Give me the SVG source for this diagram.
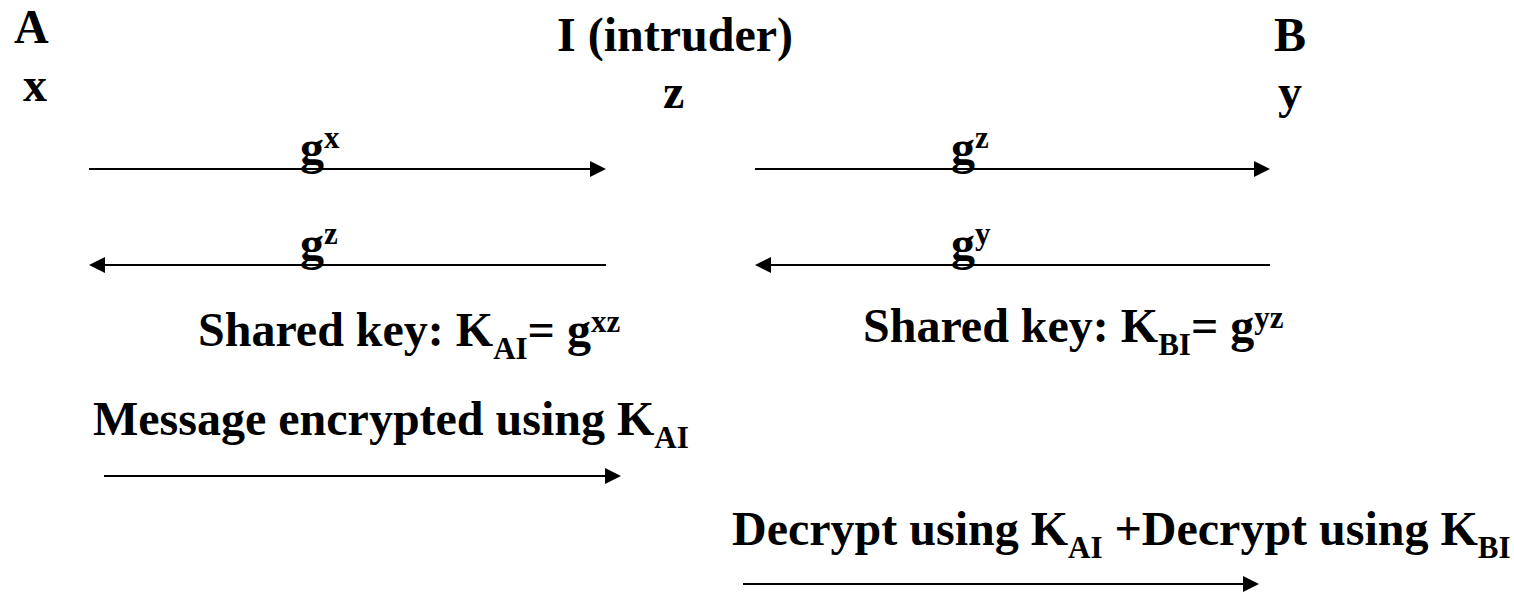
<svg xmlns="http://www.w3.org/2000/svg" width="1514" height="592" viewBox="0 0 1514 592">
  <style>
    text { font-family: "Liberation Serif", "Times New Roman", serif; font-weight: bold; font-size: 48px; fill: #000; }
    .sub { font-size: 31px; }
    .msg { stroke: #000; stroke-width: 2; fill: none; marker-end: url(#head); }
  </style>
  <defs>
    <marker id="head" markerUnits="userSpaceOnUse" markerWidth="16" markerHeight="16" refX="2" refY="8" orient="auto">
      <path d="M0,0 L16,8 L0,16 z" fill="#000"/>
    </marker>
  </defs>

  <!-- parties and their secret exponents -->
  <g id="party-a">
    <text x="14" y="43">A</text>
    <text x="23" y="101">x</text>
  </g>
  <g id="party-i">
    <text x="557" y="51">I (intruder)</text>
    <text x="663" y="108">z</text>
  </g>
  <g id="party-b">
    <text x="1274" y="51">B</text>
    <text x="1278" y="108">y</text>
  </g>

  <!-- message exchanges -->
  <g id="connectors">
    <line class="msg" x1="89" y1="169" x2="592" y2="169"/>
    <line class="msg" x1="606" y1="265" x2="103" y2="265"/>
    <line class="msg" x1="755" y1="169" x2="1256" y2="169"/>
    <line class="msg" x1="1270" y1="265" x2="769" y2="265"/>
    <line class="msg" x1="104" y1="476" x2="607" y2="476"/>
    <line class="msg" x1="743" y1="584" x2="1245" y2="584"/>
  </g>

  <!-- exchanged public values -->
  <g id="labels">
    <text x="300" y="164">g<tspan class="sub" dy="-16">x</tspan></text>
    <text x="300" y="260">g<tspan class="sub" dy="-16">z</tspan></text>
    <text x="951" y="164">g<tspan class="sub" dy="-16">z</tspan></text>
    <text x="951" y="260">g<tspan class="sub" dy="-16">y</tspan></text>
  </g>

  <!-- derived keys and traffic -->
  <g id="key-ai">
    <text x="198" y="346">Shared key: K<tspan class="sub" dy="13">AI</tspan><tspan dy="-13">= g</tspan><tspan class="sub" dy="-14">xz</tspan></text>
  </g>
  <g id="key-bi">
    <text x="863" y="342">Shared key: K<tspan class="sub" dy="13">BI</tspan><tspan dy="-13">= g</tspan><tspan class="sub" dy="-14">yz</tspan></text>
  </g>
  <g id="encrypt">
    <text x="93" y="435">Message encrypted using K<tspan class="sub" dy="13">AI</tspan></text>
  </g>
  <g id="decrypt">
    <text x="732" y="545">Decrypt using K<tspan class="sub" dy="13">AI</tspan><tspan dy="-13"> +Decrypt using K</tspan><tspan class="sub" dy="13">BI</tspan></text>
  </g>
</svg>
